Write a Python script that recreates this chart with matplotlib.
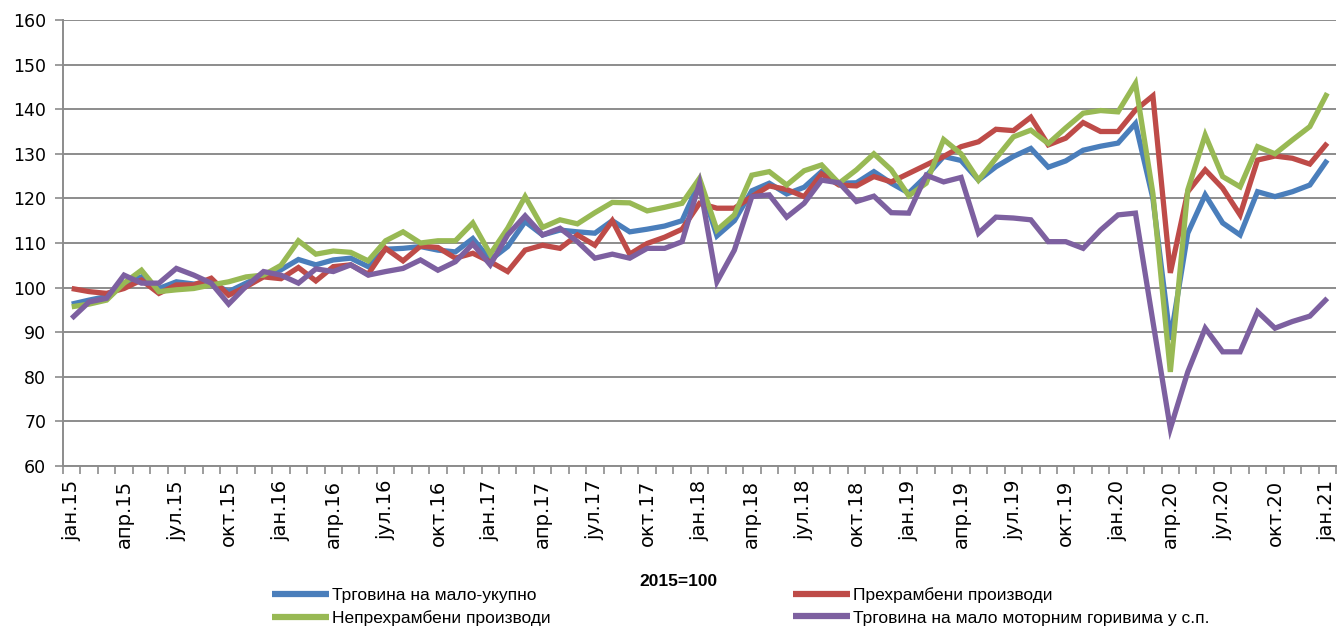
import matplotlib
matplotlib.use("Agg")
import matplotlib.pyplot as plt
from matplotlib.ticker import FixedLocator, MultipleLocator

month_abbr = ["јан", "апр", "јул", "окт"]
years = ["15", "16", "17", "18", "19", "20", "21"]

series_names = [
    "Трговина на мало-укупно",
    "Прехрамбени производи",
    "Непрехрамбени производи",
    "Трговина на мало моторним горивима у с.п.",
]

total = [96.3, 97.2, 98.0, 101.0, 102.4, 99.8, 101.3, 100.8, 101.0, 99.1, 101.0, 102.8,
         104.0, 106.3, 105.1, 106.2, 106.6, 104.7, 108.6, 108.8, 109.2, 108.4, 108.0, 111.0,
         106.2, 109.2, 114.8, 111.8, 112.9, 112.5, 112.2, 115.0, 112.5, 113.1, 113.8, 115.0,
         123.7, 111.6, 115.0, 121.7, 123.4, 121.0, 122.5, 126.0, 123.4, 123.5, 126.0, 123.4,
         121.2, 125.0, 129.4, 128.5, 124.1, 127.1, 129.4, 131.2, 127.0, 128.4, 130.8, 131.7,
         132.4, 136.8, 120.0, 88.3, 112.2, 120.8, 114.5, 111.8, 121.5, 120.4, 121.5, 123.0,
         128.6]

food = [99.8, 99.1, 98.7, 99.8, 101.7, 98.7, 100.6, 100.6, 102.1, 98.3, 100.2, 102.4,
        102.0, 104.5, 101.5, 104.7, 105.1, 103.0, 108.8, 106.0, 109.3, 109.0, 106.6, 107.7,
        105.8, 103.6, 108.4, 109.5, 108.8, 111.8, 109.5, 115.0, 107.5, 109.9, 111.3, 113.1,
        118.9, 117.8, 117.8, 120.4, 122.8, 122.0, 120.4, 125.5, 123.0, 122.8, 124.9, 123.7,
        125.6, 127.5, 129.4, 131.6, 132.7, 135.5, 135.2, 138.2, 132.0, 133.5, 137.0, 135.0,
        135.0, 139.8, 143.0, 103.3, 121.5, 126.4, 122.3, 116.3, 128.6, 129.5, 129.0, 127.7,
        132.4]

nonfood = [95.7, 96.3, 97.2, 101.0, 103.9, 99.1, 99.5, 99.8, 100.6, 101.3, 102.4, 102.8,
           105.0, 110.5, 107.5, 108.2, 107.9, 106.0, 110.5, 112.5, 110.0, 110.5, 110.5, 114.5,
           107.5, 113.3, 120.4, 113.5, 115.2, 114.3, 116.8, 119.1, 119.0, 117.2, 118.0, 118.9,
           124.5, 112.9, 116.3, 125.2, 126.0, 123.0, 126.2, 127.5, 123.4, 126.4, 130.0, 126.4,
           120.6, 123.4, 133.2, 130.0, 124.1, 129.0, 133.8, 135.3, 132.3, 135.8, 139.1, 139.7,
           139.4, 145.8, 121.1, 81.1, 121.9, 134.2, 124.9, 122.6, 131.6, 130.0, 133.1, 136.1,
           143.6]

fuel = [93.1, 96.8, 97.6, 102.8, 101.0, 101.0, 104.3, 102.8, 101.0, 96.3, 100.3, 103.6,
        102.8, 101.0, 104.2, 103.6, 105.1, 102.8, 103.6, 104.3, 106.2, 103.9, 105.8, 109.8,
        105.1, 111.8, 116.1, 111.8, 113.3, 110.3, 106.6, 107.5, 106.6, 108.8, 108.8, 110.3,
        123.4, 101.3, 108.4, 120.4, 120.8, 115.8, 118.9, 124.1, 123.5, 119.3, 120.5, 116.8,
        116.7, 125.2, 123.7, 124.7, 112.2, 115.8, 115.6, 115.2, 110.3, 110.3, 108.8, 112.9,
        116.3, 116.7, 92.4, 68.4, 81.1, 90.9, 85.6, 85.6, 94.6, 90.9, 92.4, 93.6,
        97.6]

colors = ["#4A7EBB", "#BE4B48", "#98B954", "#7D60A0"]

n = len(total)
x = list(range(n))
tick_pos = list(range(0, n, 3))
tick_labels = []
for y in years:
    for m in month_abbr:
        tick_labels.append(f"{m}.{y}")
tick_labels = tick_labels[:len(tick_pos)]

plt.rcParams["font.family"] = ["DejaVu Sans"]

fig = plt.figure(figsize=(13.43, 6.28), dpi=100)
ax = fig.add_axes([63 / 1343, 1 - 466 / 628, 1273 / 1343, 446 / 628])

lines = []
for data, c, name in zip([total, food, nonfood, fuel], colors, series_names):
    ln, = ax.plot(x, data, color=c, lw=3.8, label=name, solid_joinstyle="miter",
                  solid_capstyle="butt")
    lines.append(ln)

ax.set_xlim(-0.5, n - 0.5)
ax.set_ylim(60, 160)
ax.yaxis.set_major_locator(MultipleLocator(10))
ax.grid(axis="y", color="#8C8C8C", lw=1.4)
ax.set_axisbelow(True)

ax.set_xticks(tick_pos)
ax.set_xticklabels(tick_labels, rotation=90, fontsize=14, color="black")
ax.tick_params(axis="x", which="major", length=0, pad=10)
ax.xaxis.set_minor_locator(FixedLocator([i - 0.5 for i in range(n + 1)]))
ax.tick_params(axis="x", which="minor", length=6, width=1.2, color="#8C8C8C")
ax.tick_params(axis="y", which="major", length=6, width=1.2, color="#8C8C8C",
               labelsize=12.5, pad=6)

for s in ["top", "right"]:
    ax.spines[s].set_visible(False)
for s in ["left", "bottom"]:
    ax.spines[s].set_color("#8C8C8C")
    ax.spines[s].set_linewidth(1.4)

order = [0, 2, 1, 3]
leg = fig.legend([lines[i] for i in order], [series_names[i] for i in order],
                 ncol=2, loc="upper left", bbox_to_anchor=(256 / 1343, 1 - 572 / 628),
                 frameon=False, handlelength=3.3, handletextpad=0.15,
                 columnspacing=14.0, labelspacing=0.4,
                 prop={"family": "Liberation Sans", "size": 12.5})
for h in leg.legend_handles:
    h.set_linewidth(4.5)

fig.text(678 / 1343, 1 - 581 / 628, "2015=100", ha="center", va="center",
         fontsize=12.5, fontweight="bold", family="Liberation Sans")

fig.savefig("out.png", dpi=100)
